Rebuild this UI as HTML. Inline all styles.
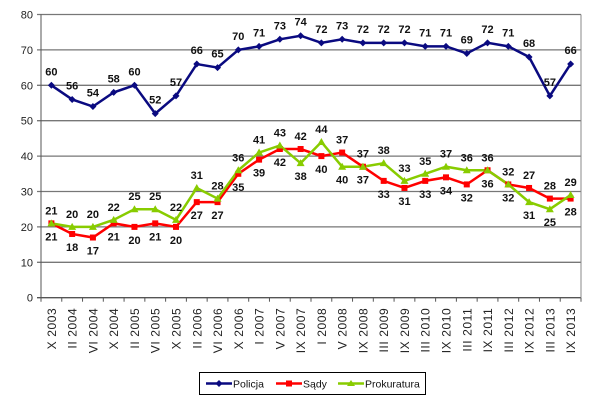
<!DOCTYPE html><html><head><meta charset="utf-8"><style>body{margin:0;background:#fff}svg{display:block;font-family:"Liberation Sans",sans-serif}</style></head><body>
<svg id="c" width="600" height="400" xmlns="http://www.w3.org/2000/svg"></svg>
<script>
const P=[60,56,54,58,60,52,57,66,65,70,71,73,74,72,73,72,72,72,71,71,69,72,71,68,57,66];
const S=[21,18,17,21,20,21,20,27,27,35,39,42,42,40,41,37,33,31,33,34,32,36,32,31,28,28];
const G=[21,20,20,22,25,25,22,31,28,36,41,43,38,44,37,37,38,33,35,37,36,36,32,27,25,29];
const AB=[[21,21],[20,18],[20,17],[22,21],[25,20],[25,21],[22,20],[31,27],[28,27],[36,35],[41,39],[43,42],[42,38],[44,40],[37,40],[37,37],[38,33],[33,31],[35,33],[37,34],[36,32],[36,36],[32,32],[27,31],[28,25],[29,28]];
const L=["X 2003","II 2004","VI 2004","X 2004","II 2005","VI 2005","X 2005","II 2006","VI 2006","X 2006","I 2007","V 2007","IX 2007","I 2008","V 2008","IX 2008","III 2009","IX 2009","III 2010","IX 2010","III 2011","IX 2011","III 2012","IX 2012","III 2013","IX 2013"];
const x0=41,x1=581,y0=297.7,k=3.54,w=(x1-x0)/26;
const X=i=>x0+w*(i+.5),Y=v=>y0-v*k;
let s='';
for(let v=0;v<=80;v+=10){s+=`<line x1="${x0-4}" x2="${x1}" y1="${Y(v)}" y2="${Y(v)}" stroke="${v?'#777':'#555'}" stroke-width="1.3"/><text x="${x0-8}" y="${Y(v)+4}" font-size="11" text-anchor="end" fill="#222">${v}</text>`;}
s+=`<line x1="${x0}" x2="${x0}" y1="${Y(80)}" y2="${y0}" stroke="#555"/><line x1="${x1}" x2="${x1}" y1="${Y(80)}" y2="${y0}" stroke="#888"/>`;
for(let i=0;i<=26;i++)s+=`<line x1="${x0+w*i}" x2="${x0+w*i}" y1="${y0}" y2="${y0+4}" stroke="#555"/>`;
L.forEach((t,i)=>{s+=`<text transform="translate(${X(i)+4.5},${y0+10}) rotate(-90)" font-size="12" letter-spacing="0.6" text-anchor="end" fill="#222">${t}</text>`;});
const line=(d,c)=>`<polyline fill="none" stroke="${c}" stroke-width="2.5" points="${d.map((v,i)=>X(i)+','+Y(v)).join(' ')}"/>`;
s+=line(P,'#0a0a80')+line(S,'#f00')+line(G,'#8c0');
P.forEach((v,i)=>{const x=X(i),y=Y(v);s+=`<polygon points="${x},${y-3.5} ${x+3.5},${y} ${x},${y+3.5} ${x-3.5},${y}" fill="#0a0a80"/><text x="${x}" y="${y-10}" font-size="11" font-weight="bold" text-anchor="middle" fill="#111">${v}</text>`;});
S.forEach((v,i)=>{const x=X(i),y=Y(v);s+=`<rect x="${x-3}" y="${y-3}" width="6" height="6" fill="#f00"/>`;});
G.forEach((v,i)=>{const x=X(i),y=Y(v);s+=`<polygon points="${x},${y-4} ${x+4},${y+3} ${x-4},${y+3}" fill="#8c0"/>`;});
AB.forEach((a,i)=>{const hi=Math.max(S[i],G[i]),lo=Math.min(S[i],G[i]);s+=`<text x="${X(i)}" y="${Y(hi)-9}" font-size="11" font-weight="bold" text-anchor="middle" fill="#111">${a[0]}</text><text x="${X(i)}" y="${Y(lo)+17}" font-size="11" font-weight="bold" text-anchor="middle" fill="#111">${a[1]}</text>`;});
s+=`<rect x="199.5" y="372.5" width="226" height="22" fill="#fff" stroke="#000"/>
<line x1="206" x2="232" y1="383.5" y2="383.5" stroke="#0a0a80" stroke-width="2.5"/><polygon points="219,380 222.5,383.5 219,387 215.5,383.5" fill="#0a0a80"/><text x="233" y="387.5" font-size="10.5" fill="#111">Policja</text>
<line x1="276" x2="302" y1="383.5" y2="383.5" stroke="#f00" stroke-width="2.5"/><rect x="286" y="380.5" width="6" height="6" fill="#f00"/><text x="303" y="387.5" font-size="10.5" fill="#111">Sądy</text>
<line x1="338" x2="364" y1="383.5" y2="383.5" stroke="#8c0" stroke-width="2.5"/><polygon points="351,380 355,386 347,386" fill="#8c0"/><text x="365" y="387.5" font-size="10.5" fill="#111">Prokuratura</text>`;
document.getElementById('c').innerHTML=s;
</script></body></html>
